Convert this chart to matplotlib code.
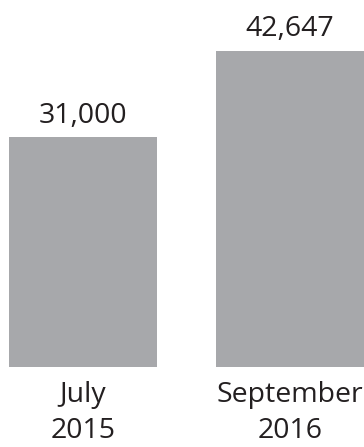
import matplotlib.pyplot as plt

categories = ["July\n2015", "September\n2016"]
values = [31000, 42647]
value_labels = ["31,000", "42,647"]

plt.rcParams['font.family'] = ['Open Sans', 'DejaVu Sans']

W, H = 364, 447
fig = plt.figure(figsize=(W / 100, H / 100), dpi=100)
# axes spans from left edge of first bar to right edge, bottom at bar base
ax = fig.add_axes([9 / W, (H - 367) / H, 355 / W, 367 / H])

bar_w = 148 / 207
ax.bar(range(len(values)), values, width=bar_w, color='#a7a8ab')
ax.set_xlim(-bar_w / 2, len(values) - 1 + bar_w / 2)
ax.set_ylim(0, max(values) * 367 / 316)

for i, (v, lab) in enumerate(zip(values, value_labels)):
	ax.annotate(lab, (i, v), xytext=(0, 10.5), textcoords='offset points',
		ha='center', va='baseline', fontsize=20.5, color='#231f20')

ax.set_xticks(range(len(categories)))
ax.set_xticklabels(categories, fontsize=20.5, color='#231f20', linespacing=1.4)
ax.tick_params(axis='x', length=0, pad=10)
ax.set_yticks([])
for s in ax.spines.values():
	s.set_visible(False)

fig.savefig('out.png', dpi=100)
